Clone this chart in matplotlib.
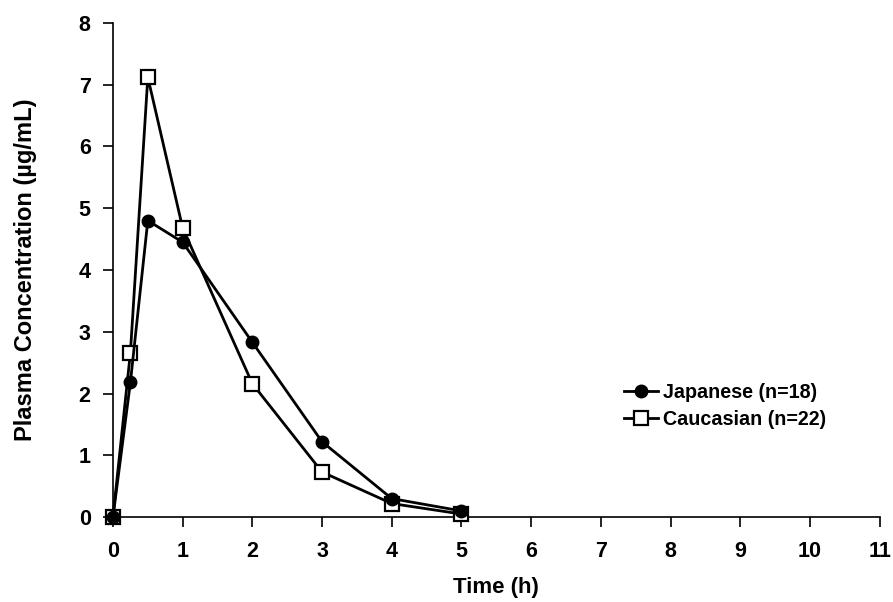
import matplotlib.pyplot as plt

plt.rcParams['font.family'] = ['Liberation Sans', 'DejaVu Sans']
plt.rcParams['font.weight'] = 'bold'

time = [0, 0.25, 0.5, 1, 2, 3, 4, 5]
japanese = [0, 2.18, 4.80, 4.45, 2.83, 1.22, 0.30, 0.10]
caucasian = [0, 2.66, 7.12, 4.68, 2.16, 0.73, 0.22, 0.05]

fig = plt.figure(figsize=(8.93, 6.02), dpi=100)
ax = fig.add_axes([0.1265, 0.141, 0.8585, 0.821])

ax.plot(time, caucasian, color='k', lw=2, marker='s', markersize=10,
        markerfacecolor='white', markeredgecolor='k', markeredgewidth=1.6,
        label='Caucasian (n=22)', zorder=3, clip_on=False)
ax.plot(time, japanese, color='k', lw=2, marker='o', markersize=9,
        markerfacecolor='k', markeredgecolor='k', label='Japanese (n=18)',
        zorder=4, clip_on=False)

ax.set_xlim(0, 11)
ax.set_ylim(0, 8)
ax.set_xticks(range(0, 12))
ax.set_yticks(range(0, 9))
ax.spines['top'].set_visible(False)
ax.spines['right'].set_visible(False)
for s in ['left', 'bottom']:
    ax.spines[s].set_linewidth(1.2)
ax.tick_params(direction='out', length=7, width=1.2, labelsize=15.5)
ax.tick_params(axis='x', pad=10)
ax.tick_params(axis='y', pad=9)
for lbl in ax.get_xticklabels() + ax.get_yticklabels():
    lbl.set_fontweight('bold')

ax.set_xlabel('Time (h)', fontsize=16, fontweight='bold', labelpad=11)
ax.set_ylabel('Plasma Concentration (µg/mL)', fontsize=17, fontweight='bold', labelpad=30)

handles, labels = ax.get_legend_handles_labels()
leg = ax.legend(handles[::-1], labels[::-1], loc='upper left',
                bbox_to_anchor=(0.656, 0.288), frameon=False,
                fontsize=14.2, handlelength=1.75, handletextpad=0.25, labelspacing=0.4,
                borderaxespad=0)
for t in leg.get_texts():
    t.set_fontweight('bold')

fig.savefig('out.png', dpi=100)
